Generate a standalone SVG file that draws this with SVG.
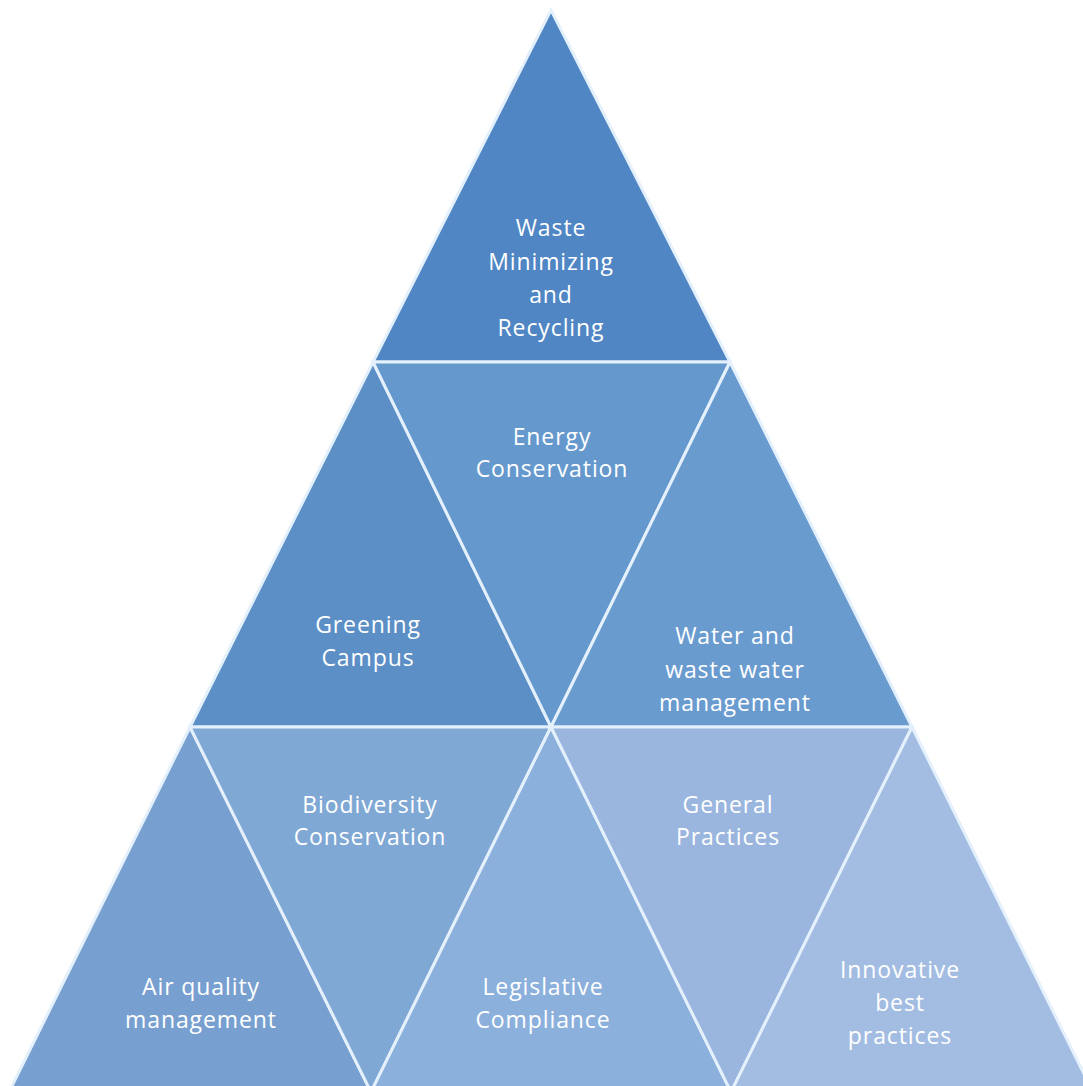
<svg xmlns="http://www.w3.org/2000/svg" width="1083" height="1086" viewBox="0 0 1083 1086">
<style>
.p{stroke:#e4f0fb;stroke-width:3;stroke-linejoin:miter}
.t{font-family:"Open Sans","Liberation Sans",sans-serif;font-size:23px;letter-spacing:0.9px;fill:#ffffff;text-anchor:middle}
</style>
<rect width="1083" height="1086" fill="#ffffff"/>
<g id="waste"><polygon class="p" fill="#4f86c3" points="551,10 730,362 373,362"/>
<text class="t" x="551" y="236">Waste</text><text class="t" x="551" y="270">Minimizing</text><text class="t" x="551" y="303">and</text><text class="t" x="551" y="336">Recycling</text></g>
<g id="greening"><polygon class="p" fill="#5b8fc6" points="373,362 551,727 190,727"/>
<text class="t" x="368" y="633">Greening</text><text class="t" x="368" y="666">Campus</text></g>
<g id="energy"><polygon class="p" fill="#6598cd" points="373,362 730,362 551,727"/>
<text class="t" x="552" y="445">Energy</text><text class="t" x="552" y="477">Conservation</text></g>
<g id="water"><polygon class="p" fill="#6a9bcf" points="730,362 912,727 551,727"/>
<text class="t" x="735" y="644">Water and</text><text class="t" x="735" y="678">waste water</text><text class="t" x="735" y="711">management</text></g>
<g id="air"><polygon class="p" fill="#779fcf" points="190,727 371,1092 9,1092"/>
<text class="t" x="201" y="995">Air quality</text><text class="t" x="201" y="1028">management</text></g>
<g id="biodiversity"><polygon class="p" fill="#80a8d5" points="190,727 551,727 371,1092"/>
<text class="t" x="370" y="813">Biodiversity</text><text class="t" x="370" y="845">Conservation</text></g>
<g id="legislative"><polygon class="p" fill="#8cb0dc" points="551,727 731,1092 371,1092"/>
<text class="t" x="543" y="995">Legislative</text><text class="t" x="543" y="1028">Compliance</text></g>
<g id="general"><polygon class="p" fill="#9ab6de" points="551,727 912,727 731,1092"/>
<text class="t" x="728" y="813">General</text><text class="t" x="728" y="845">Practices</text></g>
<g id="innovative"><polygon class="p" fill="#a3bde2" points="912,727 1093,1092 731,1092"/>
<text class="t" x="900" y="978">Innovative</text><text class="t" x="900" y="1011">best</text><text class="t" x="900" y="1044">practices</text></g>
<g id="connectors"/>
</svg>
